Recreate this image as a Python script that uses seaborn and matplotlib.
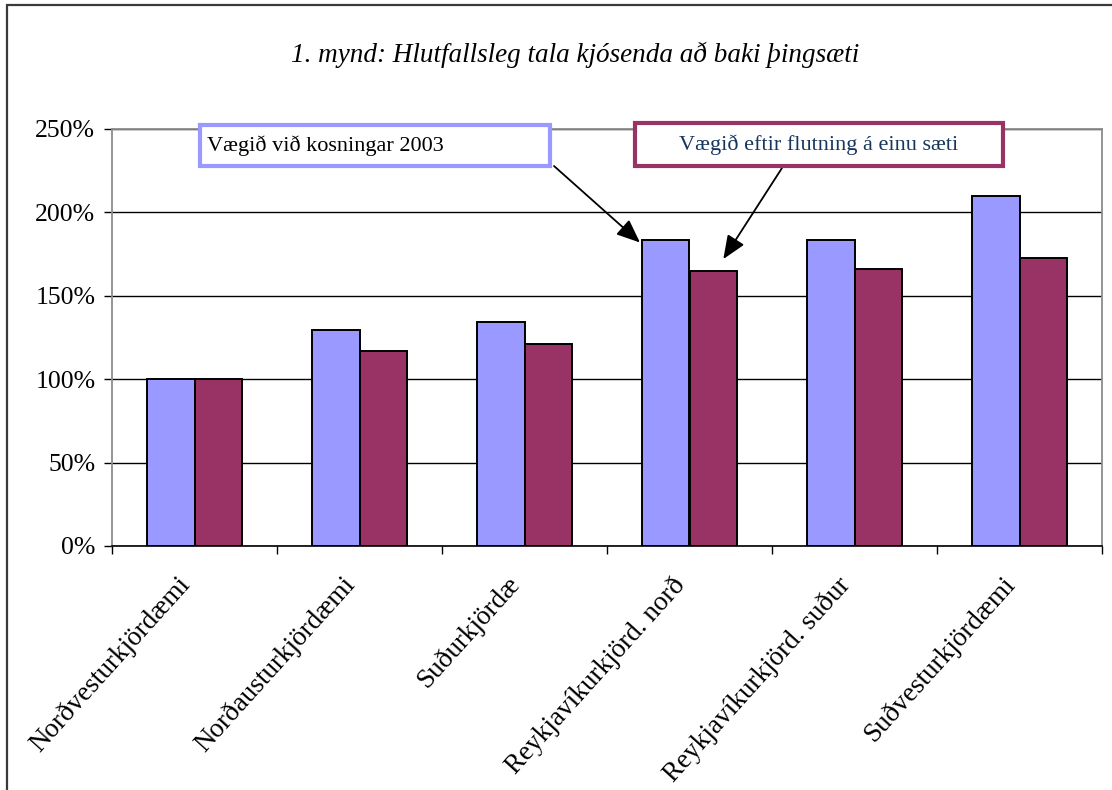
import pandas as pd
import matplotlib
matplotlib.use('Agg')
import matplotlib.pyplot as plt
import matplotlib.transforms as mtransforms
from matplotlib.patches import Rectangle
from matplotlib.ticker import FuncFormatter, MultipleLocator, FixedLocator
import seaborn as sns

# Data (percent)
kjordaemi = ["Norðvesturkjördæmi", "Norðausturkjördæmi", "Suðurkjördæ",
             "Reykjavíkurkjörd. norð", "Reykjavíkurkjörd. suður", "Suðvesturkjördæmi"]
vaegi_2003 = [100, 129.5, 134.4, 183.3, 183.3, 209.9]
vaegi_eftir = [100, 116.7, 120.9, 164.9, 165.7, 172.5]
series_names = ["Vægið við kosningar 2003", "Vægið eftir flutning á einu sæti"]

df = pd.DataFrame({
    'kjordaemi': kjordaemi * 2,
    'vaegi': vaegi_2003 + vaegi_eftir,
    'rod': [series_names[0]] * len(kjordaemi) + [series_names[1]] * len(kjordaemi),
})

sns.set_theme(style='white')
plt.rcParams['font.family'] = ['Liberation Serif', 'DejaVu Serif']
plt.rcParams['text.color'] = 'black'
plt.rcParams['xtick.color'] = 'black'
plt.rcParams['ytick.color'] = 'black'

W, H = 1112, 790
fig = plt.figure(figsize=(W / 100, H / 100), dpi=100)
fig.patch.set_facecolor('white')

# outer frame of the chart object (runs off right / bottom)
fig.patches.append(Rectangle((7 / W, -0.1), 1.2, 1 - 5 / H + 0.1, transform=fig.transFigure,
                             fill=False, edgecolor='#3a3a3a', lw=1.6, zorder=0))

ax = fig.add_axes([112 / W, 1 - 546 / H, 990 / W, (546 - 128.7) / H])
sns.barplot(data=df, x='kjordaemi', y='vaegi', hue='rod', ax=ax,
            palette=['#9999FF', '#993366'], width=0.57, gap=0,
            edgecolor='black', linewidth=1.4, saturation=1, legend=False)

ax.set_xlim(-0.5, len(kjordaemi) - 0.5)
ax.set_ylim(0, 250)
ax.set_xlabel('')
ax.set_ylabel('')
ax.yaxis.set_major_locator(MultipleLocator(50))
ax.yaxis.set_major_formatter(FuncFormatter(lambda v, p: f'{v:.0f}%'))
ax.yaxis.grid(True, color='black', lw=1)
ax.set_axisbelow(True)

for side in ['top', 'right', 'left']:
    ax.spines[side].set_color('#8c8c8c')
    ax.spines[side].set_linewidth(1.3)
ax.spines['bottom'].set_color('black')
ax.spines['bottom'].set_linewidth(1.2)

ax.tick_params(axis='y', which='major', direction='out', length=6, width=1,
               color='black', labelcolor='black', left=True, labelsize=18.5, pad=6)
# x ticks sit between the categories
ax.xaxis.set_minor_locator(FixedLocator([i - 0.5 for i in range(len(kjordaemi) + 1)]))
ax.tick_params(axis='x', which='minor', direction='out', length=6, width=1,
               color='black', bottom=True)
ax.tick_params(axis='x', which='major', length=0, pad=19, labelsize=19.5,
               labelcolor='black')
offset = mtransforms.ScaledTranslation(-18 / 100, 0, fig.dpi_scale_trans)
for lab in ax.get_xticklabels():
    lab.set_rotation(48)
    lab.set_ha('right')
    lab.set_va('top')
    lab.set_rotation_mode('anchor')
    lab.set_transform(lab.get_transform() + offset)

fig.text(575 / W, 1 - 55 / H, "1. mynd: Hlutfallsleg tala kjósenda að baki þingsæti",
         ha='center', va='center', fontsize=19.5, style='italic', color='black')

# annotation boxes
fig.patches.append(Rectangle((200 / W, 1 - 166 / H), 350 / W, 41 / H, transform=fig.transFigure,
                             facecolor='white', edgecolor='#9999FF', lw=3, zorder=5))
fig.text(207 / W, 1 - 146 / H, series_names[0], ha='left', va='center',
         fontsize=16, color='black', zorder=6)
fig.patches.append(Rectangle((635 / W, 1 - 166 / H), 368 / W, 43 / H, transform=fig.transFigure,
                             facecolor='white', edgecolor='#993366', lw=3, zorder=5))
fig.text(819 / W, 1 - 145 / H, series_names[1], ha='center', va='center',
         fontsize=16, color='#17365D', zorder=6)

arrow = dict(arrowstyle='-|>,head_length=1.2,head_width=0.5', color='black', lw=1.3,
             shrinkA=0, shrinkB=0)
ax.annotate('', xy=(2.70, 181.8), xytext=(554 / W, 1 - 166 / H),
            textcoords='figure fraction', arrowprops=arrow, annotation_clip=False)
ax.annotate('', xy=(3.205, 171.9), xytext=(782 / W, 1 - 168 / H),
            textcoords='figure fraction', arrowprops=arrow, annotation_clip=False)

plt.savefig('out.png', dpi=100)
plt.close()
